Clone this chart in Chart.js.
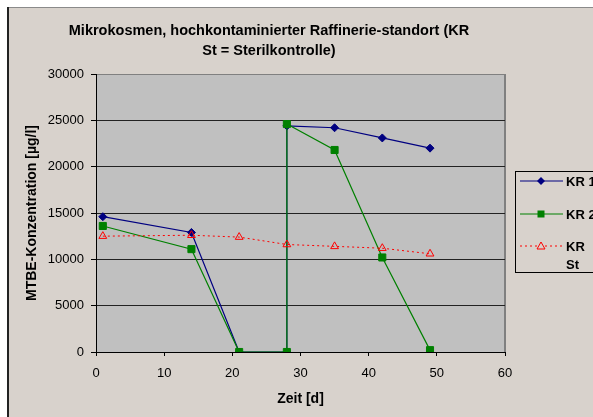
<!DOCTYPE html>
<html>
<head>
<meta charset="utf-8">
<script src="https://cdn.jsdelivr.net/npm/chart.js@4/dist/chart.umd.min.js"></script>
<style>
  html, body { margin: 0; padding: 0; background: #fff; overflow: hidden; }
  #wrap { width: 593px; height: 417px; }
</style>
</head>
<body>
<div id="wrap"><canvas id="chart" width="593" height="417"></canvas></div>
<script>
// data
const daysKR = [1, 14, 21, 28, 28, 35, 42, 49];
const kr1 = [14600, 12900, 0, 0, 24400, 24200, 23100, 22000];
const kr2 = [13600, 11100, 0, 0, 24600, 21800, 10200, 200];
const daysSt = [1, 14, 21, 28, 35, 42, 49];
const krSt = [12500, 12600, 12400, 11600, 11400, 11200, 10600];

const seriesNames = ["KR 1", "KR 2", "KR St"];
const titleLines = ["Mikrokosmen, hochkontaminierter Raffinerie-standort (KR", "St = Sterilkontrolle)"];

const FONT = "'Liberation Sans', Arial, sans-serif";

function toPoints(xs, ys) {
  return xs.map((x, i) => ({ x: x, y: ys[i] }));
}

// frame, plot background and the legend box
const excelLook = {
  id: "excelLook",
  beforeDraw(chart) {
    const ctx = chart.ctx;
    const a = chart.chartArea;
    ctx.save();
    ctx.fillStyle = "#ffffff";
    ctx.fillRect(0, 0, chart.width, chart.height);
    ctx.fillStyle = "#d8d2cc";
    ctx.fillRect(8, 8, chart.width, chart.height);
    ctx.fillStyle = "#8a8a8a";
    ctx.fillRect(8, 7, chart.width, 1);
    ctx.fillStyle = "#222";
    ctx.fillRect(7, 7, 2, chart.height);
    ctx.fillStyle = "#c0c0c0";
    ctx.fillRect(a.left, a.top, a.right - a.left, a.bottom - a.top);
    ctx.fillStyle = "#808080";
    ctx.fillRect(a.right - 1, a.top, 2, a.bottom - a.top);
    ctx.restore();
  },
  afterDraw(chart) {
    const ctx = chart.ctx;
    ctx.save();
    ctx.strokeStyle = "#000";
    ctx.lineWidth = 1;
    ctx.strokeRect(515.5, 171.5, 100, 101);
    ctx.font = "bold 13px " + FONT;
    ctx.textBaseline = "middle";
    ctx.fillStyle = "#000";
    const rows = [181, 214, 246];
    chart.data.datasets.forEach((ds, i) => {
      const y = rows[i];
      ctx.save();
      ctx.strokeStyle = ds.borderColor;
      ctx.lineWidth = ds.borderWidth;
      if (ds.borderDash) ctx.setLineDash(ds.borderDash);
      ctx.beginPath();
      ctx.moveTo(520, y);
      ctx.lineTo(563, y);
      ctx.stroke();
      ctx.setLineDash([]);
      ctx.fillStyle = ds.pointBackgroundColor;
      ctx.strokeStyle = ds.pointBorderColor;
      const cx = 541;
      if (ds.pointStyle === "rectRot") {
        ctx.beginPath();
        ctx.moveTo(cx, y - 4); ctx.lineTo(cx + 4, y); ctx.lineTo(cx, y + 4); ctx.lineTo(cx - 4, y);
        ctx.closePath(); ctx.fill();
      } else if (ds.pointStyle === "rect") {
        ctx.fillRect(cx - 3.5, y - 3.5, 7, 7);
      } else {
        ctx.fillStyle = "#d8d2cc";
        ctx.beginPath();
        ctx.moveTo(cx, y - 4); ctx.lineTo(cx + 4, y + 3); ctx.lineTo(cx - 4, y + 3);
        ctx.closePath(); ctx.fill(); ctx.stroke();
      }
      ctx.restore();
    });
    ctx.fillText("KR 1", 566, 182);
    ctx.fillText("KR 2", 566, 215);
    ctx.fillText("KR", 566, 247);
    ctx.fillText("St", 566, 265);
    ctx.restore();
  }
};

const ctx = document.getElementById("chart").getContext("2d");
new Chart(ctx, {
  type: "scatter",
  data: {
    datasets: [
      {
        label: seriesNames[0],
        data: toPoints(daysKR, kr1),
        order: 3,
        showLine: true,
        borderColor: "#000080",
        borderWidth: 1.2,
        pointStyle: "rectRot",
        pointRadius: 4,
        pointBackgroundColor: "#000080",
        pointBorderColor: "#000080",
        pointBorderWidth: 1,
      },
      {
        label: seriesNames[1],
        data: toPoints(daysKR, kr2),
        order: 2,
        showLine: true,
        borderColor: "#008000",
        borderWidth: 1.2,
        pointStyle: "rect",
        pointRadius: 5,
        pointBackgroundColor: "#008000",
        pointBorderColor: "#008000",
        pointBorderWidth: 1,
      },
      {
        label: seriesNames[2],
        data: toPoints(daysSt, krSt),
        order: 1,
        showLine: true,
        borderColor: "#ff0000",
        borderWidth: 1,
        borderDash: [2, 3],
        pointStyle: "triangle",
        pointRadius: 4.5,
        pointBackgroundColor: "rgba(0,0,0,0)",
        pointBorderColor: "#ff0000",
        pointBorderWidth: 1,
      },
    ],
  },
  options: {
    responsive: false,
    animation: false,
    events: [],
    layout: { padding: { left: 33, right: 88, top: 8, bottom: 0 } },
    plugins: {
      legend: { display: false },
      tooltip: { enabled: false },
      title: {
        display: true,
        text: titleLines,
        color: "#000",
        font: { family: FONT, size: 14.5, weight: "bold", lineHeight: 20 / 14.5 },
        padding: { top: 13, bottom: 13 },
      },
    },
    scales: {
      x: {
        type: "linear",
        min: 0,
        max: 60,
        afterFit(scale) { scale.height = 65; },
        ticks: { stepSize: 10, color: "#000", font: { family: FONT, size: 13 }, padding: 10, maxRotation: 0 },
        grid: { drawOnChartArea: false, drawTicks: true, tickLength: 4, tickColor: "#000" },
        border: { color: "#000", width: 1 },
        title: {
          display: true,
          text: "Zeit [d]",
          color: "#000",
          font: { family: FONT, size: 14, weight: "bold" },
          padding: { top: 0, bottom: 9.6 },
        },
      },
      y: {
        min: 0,
        max: 30000,
        afterFit(scale) { scale.width = 63; },
        ticks: {
          stepSize: 5000,
          color: "#000",
          font: { family: FONT, size: 13 },
          padding: 7,
          callback: (v) => String(v),
        },
        grid: {
          color: (c) => (c.tick && c.tick.value === 30000 ? "#808080" : "#222"),
          drawTicks: true,
          tickLength: 5,
          tickColor: "#000",
        },
        border: { color: "#000", width: 1 },
        title: {
          display: true,
          text: "MTBE-Konzentration [µg/l]",
          color: "#000",
          font: { family: FONT, size: 14, weight: "bold" },
          padding: { top: -9.7, bottom: 0 },
        },
      },
    },
  },
  plugins: [excelLook],
});
</script>
</body>
</html>
